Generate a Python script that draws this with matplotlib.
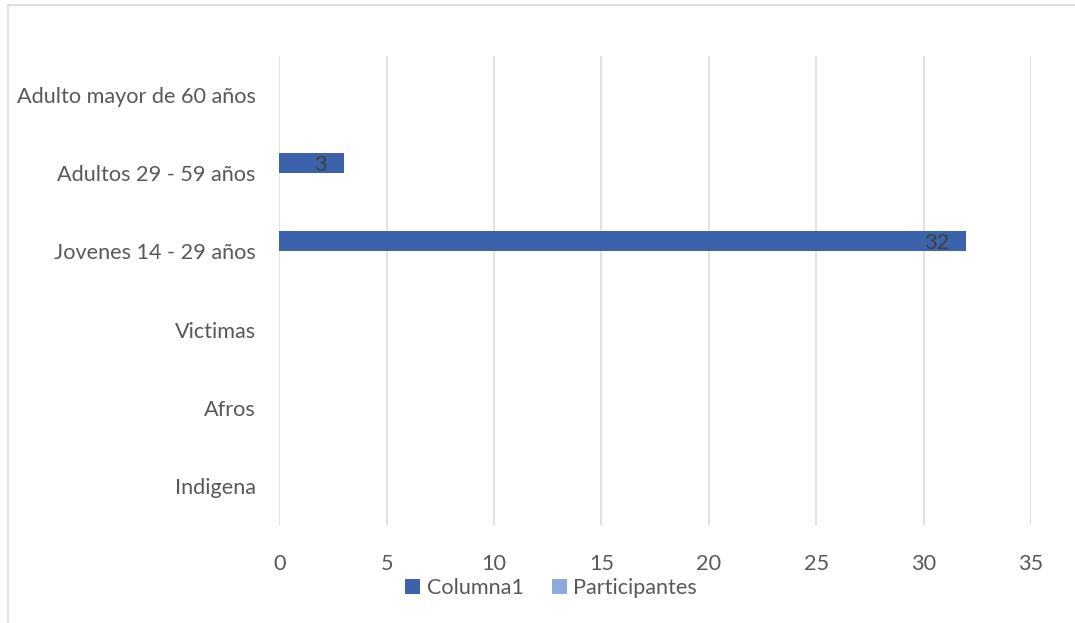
import matplotlib
matplotlib.use("Agg")
import matplotlib.pyplot as plt
from matplotlib.lines import Line2D
from matplotlib.patches import Patch
import numpy as np

categories = ["Indigena", "Afros", "Victimas", "Jovenes 14 - 29 años",
              "Adultos 29 - 59 años", "Adulto mayor de 60 años"]
columna1 = [None, None, None, 32, 3, None]
participantes = [None, None, None, None, None, None]
x_ticks = [0, 5, 10, 15, 20, 25, 30, 35]

col1_color = "#3C62AC"
part_color = "#8EA9DB"
text_color = "#595959"
grid_color = "#D9D9D9"
fs = 15.6

plt.rcParams["font.family"] = ["Lato", "DejaVu Sans"]

fig = plt.figure(figsize=(10.75, 6.23), dpi=100)
ax = fig.add_axes([0.2598, 0.1573, 0.959 - 0.2598, 0.9101 - 0.1573])

y = np.arange(len(categories))
h = 0.256

for i, v in enumerate(columna1):
    if v is None:
        continue
    ax.barh(y[i] + h / 2, v, height=h, color=col1_color, linewidth=0)
    ax.text(v - 0.8, y[i] + h / 2 - 0.025, str(v), ha="right", va="center",
            fontsize=fs, color="#404040")
for i, v in enumerate(participantes):
    if v is None:
        continue
    ax.barh(y[i] - h / 2, v, height=h, color=part_color, linewidth=0)

ax.set_xlim(0, 35)
ax.set_ylim(-0.5, len(categories) - 0.5)
ax.set_xticks(x_ticks)
ax.set_yticks(y)
ax.set_yticklabels(categories)
ax.tick_params(axis="both", length=0, labelsize=fs, labelcolor=text_color)
ax.tick_params(axis="x", pad=21)
ax.tick_params(axis="y", pad=17)
ax.xaxis.grid(True, color=grid_color, linewidth=1.1)
ax.set_axisbelow(True)
for s in ax.spines.values():
    s.set_visible(False)

handles = [Patch(facecolor=col1_color, label="Columna1"),
           Patch(facecolor=part_color, label="Participantes")]
fig.legend(handles=handles, loc="center", bbox_to_anchor=(0.5126, 0.0562),
           ncol=2, frameon=False, fontsize=fs, labelcolor=text_color,
           handlelength=0.7, handleheight=0.7, handletextpad=0.3,
           columnspacing=1.3)

# outer chart frame (only top and left edges are visible)
fig.add_artist(Line2D([8 / 1075, 1], [1 - 5 / 623, 1 - 5 / 623],
                      transform=fig.transFigure, color=grid_color, linewidth=1.2))
fig.add_artist(Line2D([8 / 1075, 8 / 1075], [0, 1 - 5 / 623],
                      transform=fig.transFigure, color=grid_color, linewidth=1.2))

fig.savefig("out.png", dpi=100)
